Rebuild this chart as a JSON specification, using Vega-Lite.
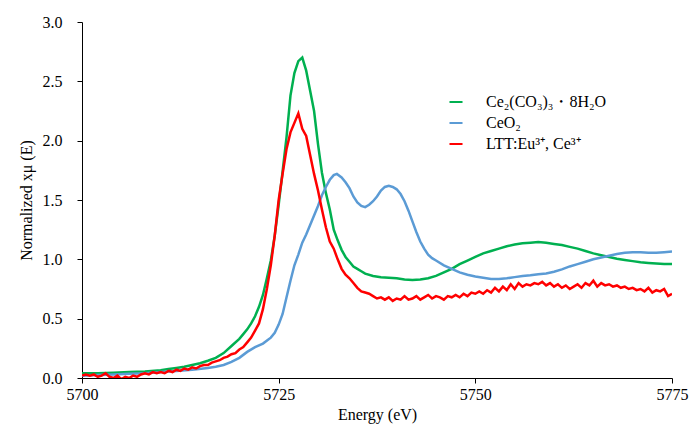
{
  "$schema": "https://vega.github.io/schema/vega-lite/v6.json",
  "width": 590,
  "height": 356,
  "autosize": {"type": "none"},
  "padding": {"left": 82, "top": 22, "right": 26, "bottom": 49},
  "background": "white",
  "config": {
    "view": {"stroke": null},
    "font": "'Liberation Serif', 'Times New Roman', Times, serif",
    "text": {"font": "'Liberation Serif', 'Times New Roman', Times, serif"},
    "axis": {"labelFont": "'Liberation Serif', 'Times New Roman', Times, serif", "titleFont": "'Liberation Serif', 'Times New Roman', Times, serif", "labelColor": "#000", "titleColor": "#000", "domainColor": "#000", "tickColor": "#000", "grid": false, "labelFontSize": 16, "titleFontSize": 16, "titleFontWeight": "normal", "labelFlush": false},
    "legend": {"labelFont": "'Liberation Serif', 'Times New Roman', Times, serif"}
  },
  "datasets": {
    "green": [
      {"energy":5700,"mu":0.04},{"energy":5702,"mu":0.04},{"energy":5704,"mu":0.045},{"energy":5706,"mu":0.05},{"energy":5708,"mu":0.055},{"energy":5710,"mu":0.065},{"energy":5711,"mu":0.075},{"energy":5712,"mu":0.085},{"energy":5713,"mu":0.095},{"energy":5714,"mu":0.11},{"energy":5715,"mu":0.125},{"energy":5716,"mu":0.145},{"energy":5717,"mu":0.17},{"energy":5718,"mu":0.21},{"energy":5719,"mu":0.27},{"energy":5720,"mu":0.33},{"energy":5720.5,"mu":0.37},{"energy":5721,"mu":0.41},{"energy":5721.5,"mu":0.46},{"energy":5722,"mu":0.52},{"energy":5722.5,"mu":0.6},{"energy":5723,"mu":0.7},{"energy":5723.5,"mu":0.84},{"energy":5724,"mu":0.99},{"energy":5724.5,"mu":1.2},{"energy":5725,"mu":1.46},{"energy":5725.5,"mu":1.74},{"energy":5726,"mu":2.03},{"energy":5726.5,"mu":2.38},{"energy":5727,"mu":2.57},{"energy":5727.5,"mu":2.67},{"energy":5728,"mu":2.7},{"energy":5728.5,"mu":2.59},{"energy":5729,"mu":2.42},{"energy":5729.5,"mu":2.25},{"energy":5730,"mu":1.97},{"energy":5730.5,"mu":1.73},{"energy":5731,"mu":1.56},{"energy":5731.5,"mu":1.42},{"energy":5732,"mu":1.25},{"energy":5732.5,"mu":1.16},{"energy":5733,"mu":1.08},{"energy":5733.5,"mu":1.02},{"energy":5734,"mu":0.98},{"energy":5734.5,"mu":0.94},{"energy":5735,"mu":0.92},{"energy":5735.5,"mu":0.9},{"energy":5736,"mu":0.88},{"energy":5737,"mu":0.86},{"energy":5738,"mu":0.85},{"energy":5739,"mu":0.845},{"energy":5740,"mu":0.84},{"energy":5741,"mu":0.83},{"energy":5742,"mu":0.825},{"energy":5743,"mu":0.83},{"energy":5744,"mu":0.84},{"energy":5745,"mu":0.86},{"energy":5746,"mu":0.89},{"energy":5747,"mu":0.92},{"energy":5748,"mu":0.96},{"energy":5749,"mu":0.99},{"energy":5750,"mu":1.02},{"energy":5751,"mu":1.05},{"energy":5752,"mu":1.07},{"energy":5753,"mu":1.09},{"energy":5754,"mu":1.11},{"energy":5755,"mu":1.125},{"energy":5756,"mu":1.135},{"energy":5757,"mu":1.14},{"energy":5758,"mu":1.145},{"energy":5759,"mu":1.14},{"energy":5760,"mu":1.13},{"energy":5761,"mu":1.12},{"energy":5762,"mu":1.105},{"energy":5763,"mu":1.09},{"energy":5764,"mu":1.07},{"energy":5765,"mu":1.05},{"energy":5766,"mu":1.035},{"energy":5767,"mu":1.02},{"energy":5768,"mu":1.005},{"energy":5769,"mu":0.995},{"energy":5770,"mu":0.985},{"energy":5771,"mu":0.975},{"energy":5772,"mu":0.97},{"energy":5773,"mu":0.965},{"energy":5774,"mu":0.96},{"energy":5775,"mu":0.96}
    ],
    "blue": [
      {"energy":5700,"mu":0.02},{"energy":5702,"mu":0.025},{"energy":5704,"mu":0.03},{"energy":5706,"mu":0.035},{"energy":5708,"mu":0.04},{"energy":5710,"mu":0.05},{"energy":5712,"mu":0.06},{"energy":5714,"mu":0.07},{"energy":5716,"mu":0.085},{"energy":5717,"mu":0.095},{"energy":5718,"mu":0.11},{"energy":5719,"mu":0.135},{"energy":5720,"mu":0.17},{"energy":5721,"mu":0.22},{"energy":5722,"mu":0.26},{"energy":5723,"mu":0.29},{"energy":5724,"mu":0.34},{"energy":5724.5,"mu":0.38},{"energy":5725,"mu":0.45},{"energy":5725.5,"mu":0.54},{"energy":5726,"mu":0.68},{"energy":5726.5,"mu":0.82},{"energy":5727,"mu":0.95},{"energy":5727.5,"mu":1.04},{"energy":5728,"mu":1.14},{"energy":5728.5,"mu":1.21},{"energy":5729,"mu":1.29},{"energy":5729.5,"mu":1.37},{"energy":5730,"mu":1.45},{"energy":5730.5,"mu":1.54},{"energy":5731,"mu":1.61},{"energy":5731.5,"mu":1.67},{"energy":5732,"mu":1.71},{"energy":5732.4,"mu":1.72},{"energy":5733,"mu":1.69},{"energy":5733.5,"mu":1.65},{"energy":5734,"mu":1.6},{"energy":5734.5,"mu":1.53},{"energy":5735,"mu":1.48},{"energy":5735.5,"mu":1.45},{"energy":5736,"mu":1.44},{"energy":5736.5,"mu":1.46},{"energy":5737,"mu":1.49},{"energy":5737.5,"mu":1.53},{"energy":5738,"mu":1.58},{"energy":5738.5,"mu":1.61},{"energy":5739,"mu":1.62},{"energy":5739.5,"mu":1.61},{"energy":5740,"mu":1.59},{"energy":5740.5,"mu":1.55},{"energy":5741,"mu":1.49},{"energy":5741.5,"mu":1.41},{"energy":5742,"mu":1.32},{"energy":5742.5,"mu":1.23},{"energy":5743,"mu":1.15},{"energy":5743.5,"mu":1.09},{"energy":5744,"mu":1.04},{"energy":5744.5,"mu":1.01},{"energy":5745,"mu":0.99},{"energy":5746,"mu":0.95},{"energy":5747,"mu":0.92},{"energy":5748,"mu":0.89},{"energy":5749,"mu":0.87},{"energy":5750,"mu":0.855},{"energy":5751,"mu":0.845},{"energy":5752,"mu":0.835},{"energy":5753,"mu":0.835},{"energy":5754,"mu":0.84},{"energy":5755,"mu":0.85},{"energy":5756,"mu":0.86},{"energy":5757,"mu":0.865},{"energy":5758,"mu":0.875},{"energy":5759,"mu":0.88},{"energy":5760,"mu":0.895},{"energy":5761,"mu":0.915},{"energy":5762,"mu":0.94},{"energy":5763,"mu":0.96},{"energy":5764,"mu":0.98},{"energy":5765,"mu":1.0},{"energy":5766,"mu":1.015},{"energy":5767,"mu":1.03},{"energy":5768,"mu":1.045},{"energy":5769,"mu":1.055},{"energy":5770,"mu":1.06},{"energy":5771,"mu":1.06},{"energy":5772,"mu":1.055},{"energy":5773,"mu":1.055},{"energy":5774,"mu":1.06},{"energy":5775,"mu":1.065}
    ],
    "red": [
      {"energy":5700,"mu":0.02},{"energy":5700.5,"mu":0.03},{"energy":5701,"mu":0.02},{"energy":5701.5,"mu":0.03},{"energy":5702,"mu":0.01},{"energy":5702.5,"mu":0.02},{"energy":5703,"mu":0.04},{"energy":5703.5,"mu":0.01},{"energy":5704,"mu":0.0},{"energy":5704.5,"mu":0.02},{"energy":5705,"mu":-0.01},{"energy":5705.5,"mu":0.01},{"energy":5706,"mu":0.0},{"energy":5706.5,"mu":0.02},{"energy":5707,"mu":0.01},{"energy":5707.5,"mu":0.03},{"energy":5708,"mu":0.04},{"energy":5708.5,"mu":0.03},{"energy":5709,"mu":0.05},{"energy":5709.5,"mu":0.04},{"energy":5710,"mu":0.05},{"energy":5710.5,"mu":0.04},{"energy":5711,"mu":0.06},{"energy":5711.5,"mu":0.05},{"energy":5712,"mu":0.07},{"energy":5712.5,"mu":0.06},{"energy":5713,"mu":0.08},{"energy":5713.5,"mu":0.07},{"energy":5714,"mu":0.09},{"energy":5714.5,"mu":0.08},{"energy":5715,"mu":0.1},{"energy":5715.5,"mu":0.11},{"energy":5716,"mu":0.11},{"energy":5716.5,"mu":0.13},{"energy":5717,"mu":0.14},{"energy":5717.5,"mu":0.15},{"energy":5718,"mu":0.17},{"energy":5718.5,"mu":0.18},{"energy":5719,"mu":0.2},{"energy":5719.5,"mu":0.21},{"energy":5720,"mu":0.24},{"energy":5720.5,"mu":0.26},{"energy":5721,"mu":0.3},{"energy":5721.5,"mu":0.34},{"energy":5722,"mu":0.4},{"energy":5722.5,"mu":0.46},{"energy":5723,"mu":0.58},{"energy":5723.5,"mu":0.75},{"energy":5724,"mu":0.95},{"energy":5724.5,"mu":1.2},{"energy":5725,"mu":1.5},{"energy":5725.5,"mu":1.72},{"energy":5726,"mu":1.93},{"energy":5726.5,"mu":2.07},{"energy":5727,"mu":2.15},{"energy":5727.5,"mu":2.23},{"energy":5728,"mu":2.1},{"energy":5728.5,"mu":2.04},{"energy":5729,"mu":1.88},{"energy":5729.5,"mu":1.72},{"energy":5730,"mu":1.58},{"energy":5730.5,"mu":1.42},{"energy":5731,"mu":1.27},{"energy":5731.5,"mu":1.15},{"energy":5732,"mu":1.09},{"energy":5732.5,"mu":1.0},{"energy":5733,"mu":0.92},{"energy":5733.5,"mu":0.87},{"energy":5734,"mu":0.84},{"energy":5734.5,"mu":0.8},{"energy":5735,"mu":0.76},{"energy":5735.5,"mu":0.73},{"energy":5736,"mu":0.72},{"energy":5736.5,"mu":0.71},{"energy":5737,"mu":0.69},{"energy":5737.5,"mu":0.67},{"energy":5738,"mu":0.68},{"energy":5738.5,"mu":0.66},{"energy":5739,"mu":0.68},{"energy":5739.5,"mu":0.65},{"energy":5740,"mu":0.67},{"energy":5740.5,"mu":0.66},{"energy":5741,"mu":0.69},{"energy":5741.5,"mu":0.66},{"energy":5742,"mu":0.67},{"energy":5742.5,"mu":0.69},{"energy":5743,"mu":0.66},{"energy":5743.5,"mu":0.68},{"energy":5744,"mu":0.7},{"energy":5744.5,"mu":0.67},{"energy":5745,"mu":0.69},{"energy":5745.5,"mu":0.68},{"energy":5746,"mu":0.66},{"energy":5746.5,"mu":0.69},{"energy":5747,"mu":0.68},{"energy":5747.5,"mu":0.7},{"energy":5748,"mu":0.68},{"energy":5748.5,"mu":0.71},{"energy":5749,"mu":0.69},{"energy":5749.5,"mu":0.72},{"energy":5750,"mu":0.71},{"energy":5750.5,"mu":0.73},{"energy":5751,"mu":0.71},{"energy":5751.5,"mu":0.74},{"energy":5752,"mu":0.72},{"energy":5752.5,"mu":0.76},{"energy":5753,"mu":0.73},{"energy":5753.5,"mu":0.77},{"energy":5754,"mu":0.74},{"energy":5754.5,"mu":0.79},{"energy":5755,"mu":0.75},{"energy":5755.5,"mu":0.8},{"energy":5756,"mu":0.77},{"energy":5756.5,"mu":0.79},{"energy":5757,"mu":0.78},{"energy":5757.5,"mu":0.8},{"energy":5758,"mu":0.79},{"energy":5758.5,"mu":0.81},{"energy":5759,"mu":0.78},{"energy":5759.5,"mu":0.8},{"energy":5760,"mu":0.77},{"energy":5760.5,"mu":0.79},{"energy":5761,"mu":0.76},{"energy":5761.5,"mu":0.78},{"energy":5762,"mu":0.75},{"energy":5762.5,"mu":0.77},{"energy":5763,"mu":0.79},{"energy":5763.5,"mu":0.76},{"energy":5764,"mu":0.8},{"energy":5764.5,"mu":0.78},{"energy":5765,"mu":0.82},{"energy":5765.5,"mu":0.77},{"energy":5766,"mu":0.8},{"energy":5766.5,"mu":0.78},{"energy":5767,"mu":0.79},{"energy":5767.5,"mu":0.77},{"energy":5768,"mu":0.78},{"energy":5768.5,"mu":0.76},{"energy":5769,"mu":0.77},{"energy":5769.5,"mu":0.75},{"energy":5770,"mu":0.76},{"energy":5770.5,"mu":0.74},{"energy":5771,"mu":0.75},{"energy":5771.5,"mu":0.73},{"energy":5772,"mu":0.76},{"energy":5772.5,"mu":0.72},{"energy":5773,"mu":0.74},{"energy":5773.5,"mu":0.73},{"energy":5774,"mu":0.75},{"energy":5774.5,"mu":0.69},{"energy":5775,"mu":0.71}
    ]
  },
  "encoding": {
    "x": {"field": "energy", "type": "quantitative", "scale": {"domain": [5700, 5775], "nice": false, "zero": false}, "axis": {"values": [5700, 5725, 5750, 5775], "title": "Energy  (eV)", "tickSize": 5, "labelPadding": 3, "titlePadding": 4, "format": "d"}},
    "y": {"field": "mu", "type": "quantitative", "scale": {"domain": [0, 3], "nice": false}, "axis": {"values": [0, 0.5, 1, 1.5, 2, 2.5, 3], "format": ".1f", "title": "Normalized  xμ (E)", "tickSize": 5, "labelPadding": 15, "titlePadding": 8}}
  },
  "layer": [
    {"data": {"name": "green"}, "mark": {"type": "line", "strokeWidth": 2.5, "clip": true}, "encoding": {"color": {"datum": "Ce₂(CO₃)₃・8H₂O", "scale": {"domain": ["Ce₂(CO₃)₃・8H₂O", "CeO₂", "LTT:Eu³⁺,  Ce³⁺"], "range": ["#00B050", "#5B9BD5", "#FF0000"]}, "legend": {"orient": "none", "legendX": 366, "legendY": 72, "title": null, "symbolType": "stroke", "symbolSize": 170, "symbolStrokeWidth": 2, "labelFontSize": 16, "labelColor": "#000", "labelOffset": 22, "rowPadding": 5, "labelLimit": 300}}}},
    {"data": {"name": "blue"}, "mark": {"type": "line", "strokeWidth": 2.5, "clip": true}, "encoding": {"color": {"datum": "CeO₂"}}},
    {"data": {"name": "red"}, "mark": {"type": "line", "strokeWidth": 2.5, "clip": true}, "encoding": {"color": {"datum": "LTT:Eu³⁺,  Ce³⁺"}}}
  ],
  "resolve": {"scale": {"color": "shared"}}
}
